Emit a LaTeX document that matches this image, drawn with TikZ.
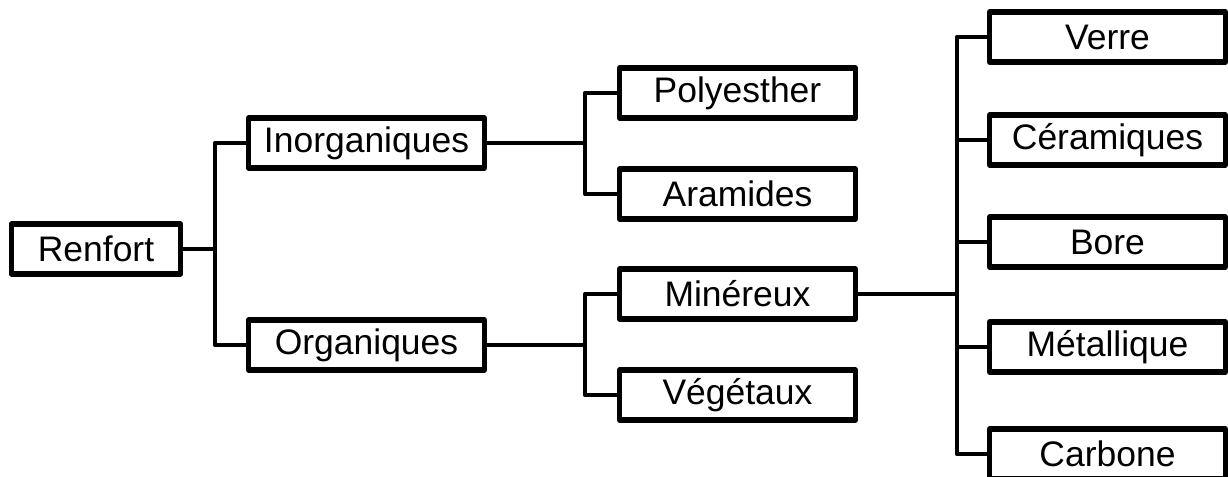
\documentclass[tikz,border=0pt]{standalone}
\usepackage{fontspec}
\setmainfont{Liberation Sans}
\usepackage{tikz}

\tikzset{
  box/.style={draw, line width=3.8pt, line join=round, minimum width=177pt, minimum height=37.5pt, inner sep=0pt, font=\fontsize{26.6}{30}\selectfont},
  rootbox/.style={box, minimum width=127pt},
  link/.style={line width=3.6pt, line join=round}
}

\begin{document}
\begin{tikzpicture}[x=0.75pt,y=0.75pt,yscale=-1,xscale=1]
\useasboundingbox (0,0) rectangle (1228,477);

\node [rootbox] (renfort) at (96,249) {Renfort};
\node [box] (inorg) at (366.5,143) {Inorganiques};
\node [box] (org) at (366.5,345) {Organiques};
\node [box] (poly) at (737.5,93) {Polyesther};
\node [box] (aram) at (737.5,194) {Aramides};
\node [box] (miner) at (737.5,294) {Minéreux};
\node [box] (veget) at (737.5,395) {Végétaux};
\node [box] (verre) at (1107.5,37) {Verre};
\node [box] (ceram) at (1107.5,140) {Céramiques};
\node [box] (bore) at (1107.5,242) {Bore};
\node [box] (metal) at (1107.5,347) {Métallique};
\node [box] (carb) at (1107.5,454) {Carbone};

\coordinate (j1) at (215,249);
\coordinate (j2) at (585,143);
\coordinate (j3) at (585,345);
\coordinate (j4) at (957,294);

\draw [link] (renfort.east) -- (j1);
\draw [link] (inorg.west) -| (j1) |- (org.west);

\draw [link] (inorg.east) -- (j2);
\draw [link] (poly.west) -| (j2) |- (aram.west);
\draw [link] (org.east) -- (j3);
\draw [link] (miner.west) -| (j3) |- (veget.west);

\draw [link] (miner.east) -- (j4);
\draw [link] (verre.west) -| (j4) |- (carb.west);
\draw [link] (ceram.west) -- (ceram.west -| j4);
\draw [link] (bore.west) -- (bore.west -| j4);
\draw [link] (metal.west) -- (metal.west -| j4);
\end{tikzpicture}
\end{document}
